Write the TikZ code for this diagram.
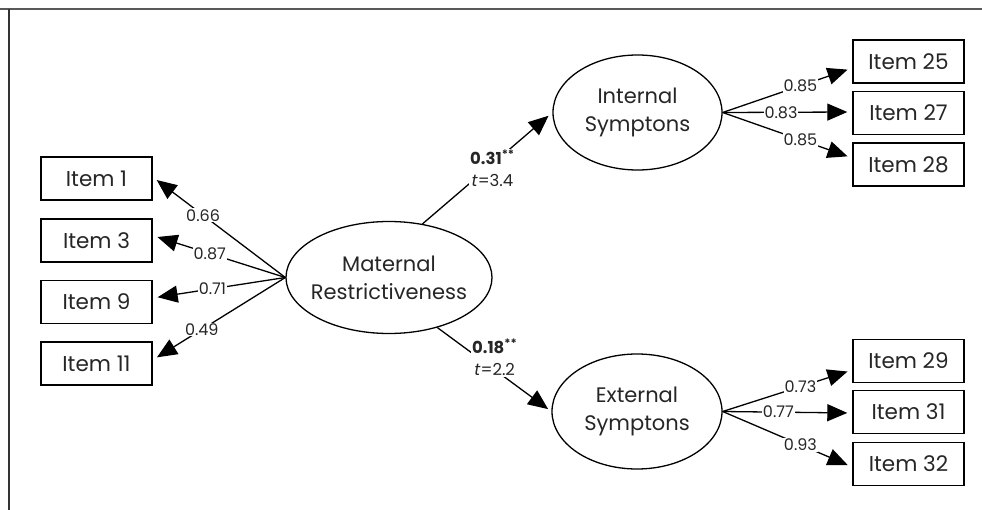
\documentclass[tikz,border=0pt]{standalone}
\usepackage{fontspec}
\setmainfont{Poppins}
\usetikzlibrary{arrows.meta,calc,shapes.geometric}
\begin{document}
\begin{tikzpicture}[x=1pt,y=-1pt,
  item/.style={draw, line width=1.4pt, minimum width=111pt, minimum height=43pt, inner sep=0pt, text=black!85, font=\fontsize{21.5}{24}\selectfont},
  latent/.style={draw, ellipse, line width=1.3pt, inner ysep=0pt, inner xsep=-30pt, align=center, text=black!85, font=\fontsize{21}{28}\selectfont},
  load/.style={line width=1.3pt, -{Triangle[length=20pt,width=17pt]}, shorten >=5pt},
  lab/.style={fill=white, inner sep=1pt, text=black!85, font=\fontsize{16}{18}\selectfont},
  plab/.style={fill=white, inner sep=1pt, align=center, text=black!85, font=\fontsize{16.5}{22}\selectfont}]
\useasboundingbox (0,0) rectangle (982,510);
\fill[white] (0,0) rectangle (982,510);
% frame
\draw[line width=2pt, black!65] (0,9) -- (982,9);
\draw[line width=2pt, black!80] (9,9) -- (9,510);
% latent variables
\node[latent, minimum width=206pt, minimum height=112pt] (mat) at (389,277.5) {Maternal\\Restrictiveness};
\node[latent, minimum width=169pt, minimum height=115pt] (int) at (637.5,112.5) {Internal\\Symptons};
\node[latent, minimum width=170pt, minimum height=115pt] (ext) at (637,411.5) {External\\Symptons};
% indicator boxes
\node[item] (i1) at (96.5,178.5) {Item 1};
\node[item] (i3) at (96.5,240.5) {Item 3};
\node[item] (i9) at (96.5,302) {Item 9};
\node[item] (i11) at (96.5,363.5) {Item 11};
\node[item] (i25) at (908.5,61.5) {Item 25};
\node[item] (i27) at (908.5,113) {Item 27};
\node[item] (i28) at (908.5,164.5) {Item 28};
\node[item] (i29) at (908.5,361) {Item 29};
\node[item] (i31) at (908.5,412) {Item 31};
\node[item] (i32) at (908.5,464) {Item 32};
% target points
\coordinate (t1) at ($(i1.east)+(0,-1.5)$);
\coordinate (t3) at ($(i3.east)+(0,-5)$);
\coordinate (t9) at ($(i9.east)+(0,-4)$);
\coordinate (t11) at ($(i11.east)+(0,-3.5)$);
\coordinate (t25) at ($(i25.west)+(0,6.5)$);
\coordinate (t27) at ($(i27.west)+(0,-1)$);
\coordinate (t28) at ($(i28.west)+(0,-6.5)$);
\coordinate (t29) at ($(i29.west)+(0,9)$);
\coordinate (t31) at ($(i31.west)+(0,1)$);
\coordinate (t32) at ($(i32.west)+(0,3)$);
% loadings
\draw[load] (mat.west) -- node[lab, pos=0.62] {0.66} (t1);
\draw[load] (mat.west) -- node[lab, pos=0.57] {0.87} (t3);
\draw[load] (mat.west) -- node[lab, pos=0.55] {0.71} (t9);
\draw[load] (mat.west) -- node[lab, pos=0.63] {0.49} (t11);
\draw[load] (int.east) -- node[lab, pos=0.6] {0.85} (t25);
\draw[load] (int.east) -- node[lab, pos=0.45] {0.83} (t27);
\draw[load] (int.east) -- node[lab, pos=0.6] {0.85} (t28);
\draw[load] (ext.east) -- node[lab, pos=0.6] {0.73} (t29);
\draw[load] (ext.east) -- node[lab, pos=0.43] {0.77} (t31);
\draw[load] (ext.east) -- node[lab, pos=0.6] {0.93} (t32);
% structural paths
\draw[load, shorten >=5pt] (mat.58) -- node[plab, pos=0.5, xshift=5pt] {\textbf{0.31}\textsuperscript{\textbf{**}}\\\textit{t}=3.4} (int.west);
\draw[load, shorten >=4pt] (mat.-46) -- node[plab, pos=0.45, xshift=6pt, yshift=8pt] {\textbf{0.18}\textsuperscript{\textbf{**}}\\\textit{t}=2.2} (ext.west);
\end{tikzpicture}
\end{document}
